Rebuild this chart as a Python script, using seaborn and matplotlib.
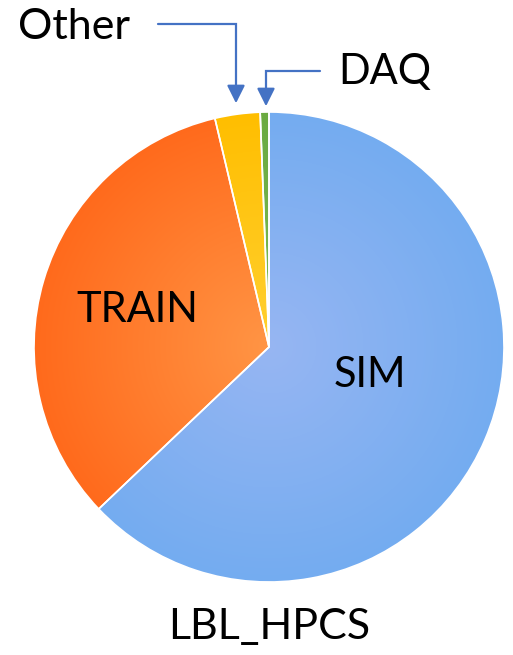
import numpy as np
import seaborn as sns
import matplotlib.pyplot as plt
from matplotlib.colors import to_rgb

labels = ["SIM", "TRAIN", "Other", "DAQ"]
shares = [62.9, 33.4, 3.1, 0.6]
center_colors = ["#97B6F3", "#FF9545", "#FFD030", "#7DBB55"]
edge_colors = ["#74ACF0", "#FF6A1C", "#FFBE00", "#6AAA40"]
title = "LBL_HPCS"

sns.set_theme(style="white")
plt.rcParams['font.family'] = ['Lato', 'DejaVu Sans']
plt.rcParams['text.color'] = 'black'

W, H = 513, 655
cx, cy, R = 269, 347, 235


def px(x, y):
    # pixel coords -> data coords (pie radius = 1)
    return (x - cx) / R, (cy - y) / R


fig = plt.figure(figsize=(W / 100, H / 100), dpi=100)
ax = fig.add_axes([0, 0, 1, 1])
ax.set_aspect("equal")
ax.axis("off")

wedges, _ = ax.pie(shares, startangle=90, counterclock=False, radius=1,
                   colors=edge_colors,
                   wedgeprops=dict(edgecolor="white", linewidth=1.2))

# radial gradient fill clipped to each wedge
n = 400
g = np.linspace(-1, 1, n)
xx, yy = np.meshgrid(g, g)
t = np.clip(np.sqrt(xx ** 2 + yy ** 2), 0, 1)[..., None]
for w, c0, c1 in zip(wedges, center_colors, edge_colors):
    img = np.array(to_rgb(c0)) * (1 - t) + np.array(to_rgb(c1)) * t
    im = ax.imshow(img, extent=[-1, 1, -1, 1], origin="lower", zorder=1.5,
                   interpolation="bilinear")
    im.set_clip_path(w)
    w.set_zorder(2)
    w.set_facecolor("none")

ax.set_xlim(-cx / R, (W - cx) / R)
ax.set_ylim((cy - H) / R, cy / R)

fs = 30
ax.text(*px(370, 375), "SIM", fontsize=fs, ha="center", va="center", zorder=5)
ax.text(*px(137, 310), "TRAIN", fontsize=fs, ha="center", va="center", zorder=5)
ax.text(*px(74, 27), "Other", fontsize=31, ha="center", va="center")
ax.text(*px(385, 72), "DAQ", fontsize=fs, ha="center", va="center")
ax.text(*px(269, 627), title, fontsize=31, ha="center", va="center")

arrow_c = "#4472C4"
# Other callout
ax.plot(*zip(px(158, 24), px(236, 24), px(236, 92)), color=arrow_c, lw=1.6,
        solid_joinstyle="miter")
ax.annotate("", xy=px(236, 106), xytext=px(236, 88),
            arrowprops=dict(arrowstyle="-|>,head_length=0.9,head_width=0.45",
                            color=arrow_c, lw=1.6))
# DAQ callout
ax.plot(*zip(px(320, 71), px(266, 71), px(266, 95)), color=arrow_c, lw=1.6,
        solid_joinstyle="miter")
ax.annotate("", xy=px(266, 109), xytext=px(266, 91),
            arrowprops=dict(arrowstyle="-|>,head_length=0.9,head_width=0.45",
                            color=arrow_c, lw=1.6))

fig.savefig("out.png", dpi=100, facecolor="white")
